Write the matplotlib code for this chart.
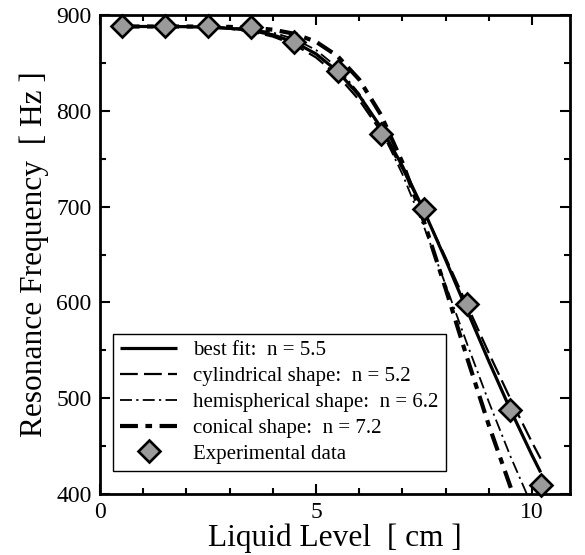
import matplotlib
matplotlib.use("Agg")
import matplotlib.pyplot as plt
from matplotlib.ticker import MultipleLocator

plt.rcParams['font.family'] = ['Liberation Serif', 'DejaVu Serif']

# Experimental data
exp_x = [0.5, 1.5, 2.5, 3.5, 4.5, 5.5, 6.5, 7.5, 8.5, 9.5, 10.2]
exp_y = [888, 888, 888, 887, 872, 842, 776, 697, 598, 488, 409]

# Curves
fit_x = [0.5, 1.0, 1.5, 2.0, 2.5, 3.0, 3.5, 4.0, 4.5, 5.0, 5.5, 6.0, 6.5, 7.0, 7.5,
         8.0, 8.5, 9.0, 9.5, 10.0, 10.2]
fit_y = [888, 888, 888, 887.8, 887.3, 886.2, 883.8, 879.3, 871.6, 859.4, 841.2, 815.9,
         782.9, 742.4, 695.6, 644.5, 591.4, 538.7, 488.0, 440.5, 422.6]

cyl_x = [0.5, 1.0, 1.5, 2.0, 2.5, 3.0, 3.5, 4.0, 4.5, 5.0, 5.5, 6.0, 6.5, 7.0, 7.5,
         8.0, 8.5, 9.0, 9.5, 10.0, 10.2]
cyl_y = [888, 888, 887.9, 887.7, 887.1, 885.6, 882.7, 877.5, 868.9, 855.7, 836.8, 811.2,
         778.6, 739.5, 694.9, 646.8, 596.9, 547.3, 499.3, 454.0, 436.9]

hem_x = [0.5, 1.0, 1.5, 2.0, 2.5, 3.0, 3.5, 4.0, 4.5, 5.0, 5.5, 6.0, 6.5, 7.0, 7.5,
         8.0, 8.5, 9.0, 9.5, 9.88, 10.0]
hem_y = [888, 888, 888, 887.9, 887.7, 886.9, 885.2, 881.7, 875.0, 863.5, 845.1, 818.0,
         780.9, 733.9, 678.8, 618.5, 556.5, 496.2, 439.5, 400.0, 388.0]

con_x = [0.5, 1.0, 1.5, 2.0, 2.5, 3.0, 3.5, 4.0, 4.5, 5.0, 5.5, 6.0, 6.5, 7.0, 7.5,
         8.0, 8.5, 9.0, 9.56, 9.7]
con_y = [888, 888, 888, 888, 887.9, 887.6, 886.7, 884.7, 880.4, 872.1, 857.1, 832.7,
         796.1, 746.2, 684.3, 614.5, 541.9, 471.9, 400.0, 382.0]

labels = ["best fit:  n = 5.5", "cylindrical shape:  n = 5.2",
          "hemispherical shape:  n = 6.2", "conical shape:  n = 7.2",
          "Experimental data"]

fig = plt.figure(figsize=(5.85, 5.55), dpi=100)
ax = fig.add_axes([100/585, 1-494/555, 470/585, 479/555])

ax.plot(fit_x, fit_y, color='black', lw=2.3, solid_capstyle='butt', label=labels[0], zorder=3)
ax.plot(cyl_x, cyl_y, color='black', lw=1.6, dashes=(8.0, 2.8), label=labels[1], zorder=3)
ax.plot(hem_x, hem_y, color='black', lw=1.3, dashes=(6.6, 2.4, 1.2, 2.4), label=labels[2], zorder=3)
ax.plot(con_x, con_y, color='black', lw=3.0, dashes=(4.3, 1.8, 1.6, 1.8), label=labels[3], zorder=3)
ax.plot(exp_x, exp_y, linestyle='none', marker='D', ms=10.8, mfc='#9a9a9a', mec='black',
        mew=1.9, label=labels[4], zorder=4, clip_on=False)

ax.set_xlim(0, 10.88)
ax.set_ylim(400, 900)
ax.xaxis.set_major_locator(MultipleLocator(5))
ax.xaxis.set_minor_locator(MultipleLocator(1))
ax.yaxis.set_major_locator(MultipleLocator(100))
ax.yaxis.set_minor_locator(MultipleLocator(50))
ax.tick_params(which='both', direction='in', top=True, right=True, width=1.5, labelsize=17)
ax.tick_params(which='major', length=7.5, pad=6)
ax.tick_params(which='minor', length=4)
for s in ax.spines.values():
    s.set_linewidth(2.0)

ax.set_xlabel("Liquid Level  [ cm ]", fontsize=22.6, labelpad=0)
ax.set_ylabel("Resonance Frequency  [ Hz ]", fontsize=22.6, labelpad=5)

leg = ax.legend(loc='lower left', bbox_to_anchor=(0.028, 0.048), borderaxespad=0,
                fontsize=15, frameon=True, fancybox=False, edgecolor='black',
                handlelength=2.7, handletextpad=0.8, labelspacing=0.3, borderpad=0.35,
                numpoints=1)
leg.get_frame().set_linewidth(1.0)
leg.get_frame().set_alpha(1)

fig.savefig("out.png", dpi=100)
